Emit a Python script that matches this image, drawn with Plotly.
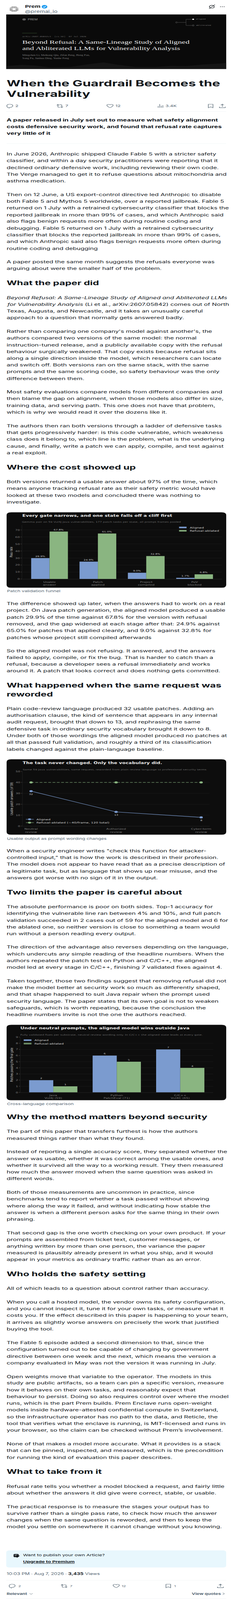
import re
import plotly.graph_objects as go

W, H = 598, 6629

# ---------- chart data ----------
funnel_stages = ["Usable<br>answer", "Patch<br>applied", "Project<br>compiled", "PoV<br>blocked"]
funnel_aligned = [29.9, 24.9, 9.0, 1.7]
funnel_ablated = [67.8, 65.0, 32.8, 6.8]

wording_frames = ["Neutral<br>review", "Authorized<br>review", "Cyber-term<br>review"]
wording_aligned = [32, 13, 8]
wording_ablated = [40, 40, 40]

lang_names = ["Java<br>Vul4J (59)", "Python<br>PatchEval (71)", "C/C++<br>Vul4C (65)"]
lang_aligned = [2, 6, 7]
lang_ablated = [1, 5, 4]

# ---------- article text ----------
PARAGRAPHS = [
 (633, ["In June 2026, Anthropic shipped Claude Fable 5 with a stricter safety",
        "classifier, and within a day security practitioners were reporting that it",
        "declined ordinary defensive work, including reviewing their own code.",
        "The Verge managed to get it to refuse questions about mitochondria and",
        "asthma medication."]),
 (801, ["Then on 12 June, a US export-control directive led Anthropic to disable",
        "both Fable 5 and Mythos 5 worldwide, over a reported jailbreak. Fable 5",
        "returned on 1 July with a retrained cybersecurity classifier that blocks the",
        "reported jailbreak in more than 99% of cases, and which Anthropic said",
        "also flags benign requests more often during routine coding and",
        "debugging. Fable 5 returned on 1 July with a retrained cybersecurity",
        "classifier that blocks the reported jailbreak in more than 99% of cases,",
        "and which Anthropic said also flags benign requests more often during",
        "routine coding and debugging"]),
 (1081, ["A paper posted the same month suggests the refusals everyone was",
         "arguing about were the smaller half of the problem."]),
 (1229, ["<i>Beyond Refusal: A Same-Lineage Study of Aligned and Abliterated LLMs</i>",
         "<i>for Vulnerability Analysis</i> (Li et al., arXiv:2607.05842) comes out of North",
         "Texas, Augusta, and Newcastle, and it takes an unusually careful",
         "approach to a question that normally gets answered badly."]),
 (1369, ["Rather than comparing one company's model against another's, the",
         "authors compared two versions of the same model: the normal",
         "instruction-tuned release, and a publicly available copy with the refusal",
         "behaviour surgically weakened. That copy exists because refusal sits",
         "along a single direction inside the model, which researchers can locate",
         "and switch off. Both versions ran on the same stack, with the same",
         "prompts and the same scoring code, so safety behaviour was the only",
         "difference between them."]),
 (1621, ["Most safety evaluations compare models from different companies and",
         "then blame the gap on alignment, when those models also differ in size,",
         "training data, and serving path. This one does not have that problem,",
         "which is why we would read it over the dozens like it."]),
 (1761, ["The authors then ran both versions through a ladder of defensive tasks",
         "that gets progressively harder: is this code vulnerable, which weakness",
         "class does it belong to, which line is the problem, what is the underlying",
         "cause, and finally, write a patch we can apply, compile, and test against",
         "a real exploit."]),
 (1993, ["Both versions returned a usable answer about 97% of the time, which",
         "means anyone tracking refusal rate as their safety metric would have",
         "looked at these two models and concluded there was nothing to",
         "investigate."]),
 (2499, ["The difference showed up later, when the answers had to work on a real",
         "project. On Java patch generation, the aligned model produced a usable",
         "patch 29.9% of the time against 67.8% for the version with refusal",
         "removed, and the gap widened at each stage after that: 24.9% against",
         "65.0% for patches that applied cleanly, and 9.0% against 32.8% for",
         "patches whose project still compiled afterwards"]),
 (2695, ["So the aligned model was not refusing. It answered, and the answers",
         "failed to apply, compile, or fix the bug. That is harder to catch than a",
         "refusal, because a developer sees a refusal immediately and works",
         "around it. A patch that looks correct and does nothing gets committed."]),
 (2935, ["Plain code-review language produced 32 usable patches. Adding an",
         "authorisation clause, the kind of sentence that appears in any internal",
         "audit request, brought that down to 13, and rephrasing the same",
         "defensive task in ordinary security vocabulary brought it down to 8.",
         "Under both of those wordings the aligned model produced no patches at",
         "all that passed full validation, and roughly a third of its classification",
         "labels changed against the plain-language baseline."]),
 (3525, ["When a security engineer writes \"check this function for attacker-",
         "controlled input,\" that is how the work is described in their profession.",
         "The model does not appear to have read that as a precise description of",
         "a legitimate task, but as language that shows up near misuse, and the",
         "answers got worse with no sign of it in the output."]),
 (3757, ["The absolute performance is poor on both sides. Top-1 accuracy for",
         "identifying the vulnerable line ran between 4% and 10%, and full patch",
         "validation succeeded in 2 cases out of 59 for the aligned model and 6 for",
         "the ablated one, so neither version is close to something a team would",
         "run without a person reading every output."]),
 (3925, ["The direction of the advantage also reverses depending on the language,",
         "which undercuts any simple reading of the headline numbers. When the",
         "authors repeated the patch test on Python and C/C++, the aligned",
         "model led at every stage in C/C++, finishing 7 validated fixes against 4."]),
 (4065, ["Taken together, those two findings suggest that removing refusal did not",
         "make the model better at security work so much as differently shaped,",
         "and that shape happened to suit Java repair when the prompt used",
         "security language. The paper states that its own goal is not to weaken",
         "safeguards, which is worth repeating, because the conclusion the",
         "headline numbers invite is not the one the authors reached."]),
 (4690, ["The part of this paper that transfers furthest is how the authors",
         "measured things rather than what they found."]),
 (4774, ["Instead of reporting a single accuracy score, they separated whether the",
         "answer was usable, whether it was correct among the usable ones, and",
         "whether it survived all the way to a working result. They then measured",
         "how much the answer moved when the same question was asked in",
         "different words."]),
 (4942, ["Both of those measurements are uncommon in practice, since",
         "benchmarks tend to report whether a task passed without showing",
         "where along the way it failed, and without indicating how stable the",
         "answer is when a different person asks for the same thing in their own",
         "phrasing."]),
 (5110, ["That second gap is the one worth checking on your own product. If your",
         "prompts are assembled from ticket text, customer messages, or",
         "anything written by more than one person, the variance the paper",
         "measured is plausibly already present in what you ship, and it would",
         "appear in your metrics as ordinary traffic rather than as an error."]),
 (5341, ["All of which leads to a question about control rather than accuracy."]),
 (5397, ["When you call a hosted model, the vendor owns its safety configuration,",
         "and you cannot inspect it, tune it for your own tasks, or measure what it",
         "costs you. If the effect described in this paper is happening to your team,",
         "it arrives as slightly worse answers on precisely the work that justified",
         "buying the tool."]),
 (5566, ["The Fable 5 episode added a second dimension to that, since the",
         "configuration turned out to be capable of changing by government",
         "directive between one week and the next, which means the version a",
         "company evaluated in May was not the version it was running in July."]),
 (5706, ["Open weights move that variable to the operator. The models in this",
         "study are public artifacts, so a team can pin a specific version, measure",
         "how it behaves on their own tasks, and reasonably expect that",
         "behaviour to persist. Doing so also requires control over where the model",
         "runs, which is the part Prem builds. Prem Enclave runs open-weight",
         "models inside hardware-attested confidential compute in Switzerland,",
         "so the infrastructure operator has no path to the data, and Reticle, the",
         "tool that verifies what the enclave is running, is MIT-licensed and runs in",
         "your browser, so the claim can be checked without Prem\u2019s involvement."]),
 (5986, ["None of that makes a model more accurate. What it provides is a stack",
         "that can be pinned, inspected, and measured, which is the precondition",
         "for running the kind of evaluation this paper describes."]),
 (6162, ["Refusal rate tells you whether a model blocked a request, and fairly little",
         "about whether the answers it did give were correct, stable, or usable."]),
 (6246, ["The practical response is to measure the stages your output has to",
         "survive rather than a single pass rate, to check how much the answer",
         "changes when the same question is reworded, and then to keep the",
         "model you settle on somewhere it cannot change without you knowing."]),
]
HEADINGS = [
 (1168, "What the paper did"), (1933, "Where the cost showed up"),
 (2838, "What happened when the same request was"), (2874, "reworded"),
 (3697, "Two limits the paper is careful about"),
 (4629, "Why the method matters beyond security"),
 (5281, "Who holds the safety setting"), (6101, "What to take from it"),
]
CAPTIONS = [(2448, "Patch validation funnel"), (3474, "Usable output as prompt wording changes"),
            (4575, "Cross-language comparison")]
INTRO = [(492, "A paper released in July set out to measure what safety alignment"),
         (520, "costs defensive security work, and found that refusal rate captures"),
         (548, "very little of it")]

# ---------- palette ----------
INK, GREY = "#0f1419", "#536471"
CARD = "#0d0d0d"
BLUE, GREEN = "#7b9bcf", "#8ab581"
GRID, SPINE = "#1d1d1d", "#2a2a2a"
TICK, LABEL, STRONG = "#7d7d7d", "#cfcfcf", "#ececec"
MAIN, CHART, SERIF, MONO = "Inter", "DejaVu Sans", "Liberation Serif", "DejaVu Sans Mono"

fx = lambda x: x / W
fy = lambda y: 1 - y / H

def pth(s, ox=0, oy=0):
    def rep(m):
        return f"{fx(float(m.group(1)) + ox):.6f},{fy(float(m.group(2)) + oy):.6f}"
    return re.sub(r"(-?[\d.]+),(-?[\d.]+)", rep, s)

shapes, notes = [], []

def text(x, y, s, size, color=INK, family=MAIN, anchor="left", weight=None, angle=0):
    f = dict(size=size, color=color, family=family)
    if weight:
        f["weight"] = weight
    notes.append(dict(xref="paper", yref="paper", x=fx(x), y=fy(y), text=s, showarrow=False,
                      xanchor=anchor, yanchor="middle", align=anchor, font=f, borderpad=0,
                      borderwidth=0, textangle=angle))

def icon(d, ox, oy, color=GREY, w=1.35, fill=None):
    shapes.append(dict(type="path", xref="paper", yref="paper", path=pth(d, ox, oy), layer="below",
                       line=dict(color=color, width=w), fillcolor=fill or "rgba(0,0,0,0)"))

def circle(cx, cy, r, fill=None, line=None, w=1.0):
    shapes.append(dict(type="circle", xref="paper", yref="paper", layer="below",
                       x0=fx(cx - r), x1=fx(cx + r), y0=fy(cy + r), y1=fy(cy - r),
                       fillcolor=fill or "rgba(0,0,0,0)",
                       line=dict(color=line or "rgba(0,0,0,0)", width=w if line else 0)))

def rect(x0, y0, x1, y1, fill):
    shapes.append(dict(type="rect", xref="paper", yref="paper", layer="below",
                       x0=fx(x0), x1=fx(x1), y0=fy(y1), y1=fy(y0), fillcolor=fill, line=dict(width=0)))

def rrect(x0, y0, x1, y1, r, fill):
    d = (f"M{x0+r},{y0} L{x1-r},{y0} Q{x1},{y0} {x1},{y0+r} L{x1},{y1-r} Q{x1},{y1} {x1-r},{y1} "
         f"L{x0+r},{y1} Q{x0},{y1} {x0},{y1-r} L{x0},{y0+r} Q{x0},{y0} {x0+r},{y0} Z")
    shapes.append(dict(type="path", xref="paper", yref="paper", layer="below", path=pth(d),
                       fillcolor=fill, line=dict(width=0)))

def hline(x0, x1, y, color="#eff3f4", w=1):
    shapes.append(dict(type="line", xref="paper", yref="paper", layer="below", x0=fx(x0), x1=fx(x1),
                       y0=fy(y), y1=fy(y), line=dict(color=color, width=w)))

def dots(cx, cy, step, lim, size, color):
    d = []
    for i in range(-5, 6):
        for j in range(-5, 6):
            if 2 < i * i + j * j <= lim:
                px, py, s = cx + i * step, cy + j * step, size
                d.append(f"M{px-s},{py-s} L{px+s},{py-s} L{px+s},{py+s} L{px-s},{py+s} Z")
    shapes.append(dict(type="path", xref="paper", yref="paper", layer="below", path=pth(" ".join(d)),
                       fillcolor=color, line=dict(width=0)))

# ---------- header ----------
dots(36, 32, 2.5, 24, 0.75, "#2a2a2a")
text(64, 22, "Prem", 15.5, INK, weight=700)
circle(114.5, 22, 7.3, fill="#1d9bf0")
icon("M-3.4,0.2 L-1,2.7 L3.6,-2.6", 114.5, 22, "#ffffff", 1.7)
text(64, 42, "@premai_io", 15, GREY)
circle(545, 22, 6.2, line=INK, w=1.5)
icon("M-7,8.5 L8,-9", 545, 22, INK, 1.3)
for dx in (-4.6, 0, 4.6):
    circle(572 + dx, 22, 1.25, fill=INK)

# ---------- banner ----------
rect(16, 54, 582, 280, "#0a0a0a")
icon("M16,280 L16,268 L40,265 L57,263 L90,266 L130,274 L180,272 L230,260 L267,253 L300,262 L350,272 "
     "L400,272 L440,267 L480,268 L520,262 L572,257 L582,255 L582,280 Z", 0, 0, "rgba(0,0,0,0)", 0, "#151515")
circle(62, 74.7, 4.5, fill="#5c5c5c")
text(71.5, 74.7, "PREM", 9, "#9a9a9a")
circle(454, 87, 2.4, line="#6a6a6a", w=0.9)
icon("M457,87 L478.5,87 M478.5,74 L478.5,99.5 M478.5,74 L494,74 M478.5,99.5 L494,99.5", 0, 0, "#5f5f5f", 0.9)
circle(497, 74, 2.6, fill="#ffffff")
circle(497, 99.5, 2.4, line="#7a7a7a", w=0.9)
text(504.5, 74, "aligned", 5.8, "#7f7f7f", MONO)
text(504.5, 99.5, "abliterated", 5.8, "#7f7f7f", MONO)
hline(57, 95, 131.7, "#3c5a35", 1.2)
text(57, 145, "arXiv:2607.05842v1  [cs.SE]  07 Jul 2026", 6.8, "#6f6f6f", MONO)
text(57, 169.5, "Beyond Refusal: A Same-Lineage Study of Aligned", 20.7, "#efefef", SERIF)
text(57, 195, "and Abliterated LLMs for Vulnerability Analysis", 20.7, "#efefef", SERIF)
text(57, 224, "Mingchen Li, Meikang Qiu, Zifan Peng, Heng Fan,", 8.4, "#7d7d7d", SERIF)
text(57, 237.3, "Song Fu, Junhua Ding, Yunhe Feng", 8.4, "#7d7d7d", SERIF)

# ---------- title + action rows ----------
text(17, 340, "When the Guardrail Becomes the", 34.1, INK, weight=700)
text(17, 383, "Vulnerability", 34.1, INK, weight=700)

COMMENT = "M-7.5,-1 C-7.5,-5 -4,-7.5 0,-7.5 C4.5,-7.5 8,-5 8,-1 C8,3 4,6 0,6 L-1,6 L-1,8.5 C-5,7 -7.5,3 -7.5,-1 Z"
RT = ("M-8,-3 L-5,-6.5 L-2,-3 M-5,-6 L-5,3 C-5,4.5 -4,5.5 -2.5,5.5 L1.5,5.5 "
      "M8,3 L5,6.5 L2,3 M5,6 L5,-3 C5,-4.5 4,-5.5 2.5,-5.5 L-1.5,-5.5")
HEART = "M0,7 C-4,4 -8,1 -8,-3 C-8,-6 -5.5,-7 -3.5,-7 C-2,-7 -0.8,-6 0,-5 C0.8,-6 2,-7 3.5,-7 C5.5,-7 8,-6 8,-3 C8,1 4,4 0,7 Z"
VIEWS = "M-6,7 L-6,0 M-2,7 L-2,-8 M2,7 L2,-1 M6,7 L6,-3"
MARK = "M-6,-7.5 L6,-7.5 L6,7.5 L0,3.5 L-6,7.5 Z"
SHARE = "M0,-8 L0,3 M-4,-4 L0,-8 L4,-4 M-7.5,3 L-7.5,7 L7.5,7 L7.5,3"

for d, x in ((COMMENT, 25), (RT, 154), (HEART, 283), (VIEWS, 413), (MARK, 542), (SHARE, 572)):
    icon(d, x, 434)
for x, s in ((39, "2"), (168, "7"), (297, "12"), (426, "3.4K")):
    text(x, 434, s, 13, GREY)
hline(16, 582, 457)

for y, s in INTRO:
    text(17, y, s, 16.8, INK, weight=700)
hline(17, 582, 590)

for y0, lines in PARAGRAPHS:
    for i, s in enumerate(lines):
        text(17, y0 + 28 * i, s, 16.4, INK)
for y, s in HEADINGS:
    text(17, y, s, 25.4, INK, weight=700)
for y, s in CAPTIONS:
    text(18, y, s, 12.7, GREY)

# ---------- chart cards ----------
CARDS = [(17, 2120, 582, 2433), (17, 3145, 582, 3458), (17, 4247, 582, 4560)]
for c in CARDS:
    rrect(*c, 12, CARD)

text(57, 2134, "Every gate narrows, and one state falls off a cliff first", 12.7, STRONG, CHART, weight=700)
text(56.5, 2161, "Gemma pair on 59 Vul4J Java vulnerabilities, 177 patch tasks per state, all prompt frames pooled", 8.35, "#6a6a6a", CHART)
text(58, 3160, "The task never changed. Only the vocabulary did.", 12.7, STRONG, CHART, weight=700)
text(58, 3187, "Same 59 Java vulnerabilities, same request, reworded from plain review language to professional security terms", 8.35, "#6a6a6a", CHART)
text(52.5, 4261, "Under neutral prompts, the aligned model wins outside Java", 12.7, STRONG, CHART, weight=700)
text(52.5, 4289, "Fully validated fixes per substrate, neutral review wording only. In C/C++ the aligned state leads at every gate.", 8.35, "#6a6a6a", CHART)

def swatches(x0, x1, tx, ys, labels):
    for y, col, lab in zip(ys, (BLUE, GREEN), labels):
        rect(x0, y - 3.2, x1, y + 3.2, col)
        text(tx, y, lab, 9.6, LABEL, CHART)

swatches(460.7, 480, 487.8, (2183, 2196.5), ("Aligned", "Refusal-ablated"))
swatches(61, 81, 88.5, (4310.7, 4324.5), ("Aligned", "Refusal-ablated"))
for y, col, lab in ((3394, BLUE, "Aligned"), (3408, GREEN, "Refusal-ablated (~40/frame, 120 total)")):
    hline(66.4, 87, y, col, 1.6)
    circle(76, y, 4, fill=col)
    text(93.6, y, lab, 9.6, LABEL, CHART)

# ---------- footer ----------
rrect(16, 6428, 582, 6499, 9, "#e8f7fd")
rrect(35, 6443, 48, 6456, 2.5, INK)
icon("M37.5,6447 L45,6447 M37.5,6450.5 L42,6450.5", 0, 0, "#ffffff", 1.1)
icon("M43,6458 L50,6450", 0, 0, INK, 2)
text(59, 6448, "Want to publish your own Article?", 13.2, INK)
text(59, 6476, "<b><u>Upgrade to Premium</u></b>", 13.2, INK)
text(17, 6526, "10:03 PM \u00b7 Aug 7, 2026 \u00b7 <b style='color:#0f1419'>3,435</b> Views", 13.4, GREY)
hline(16, 582, 6552)
for d, x in ((COMMENT, 31), (RT, 165), (HEART, 299), (MARK, 433), (SHARE, 567)):
    icon(d, x, 6576)
for x, s in ((47, "2"), (180, "7"), (313.5, "12"), (448, "1")):
    text(x, 6576, s, 10.5, GREY)
text(17, 6608, "<b>Relevant</b>", 12.3, GREY)
icon("M76,6606.5 L80,6610.5 L84,6606.5", 0, 0, GREY, 1)
text(569, 6608, "<b>View quotes</b>", 12.3, GREY, anchor="right")
icon("M573,6604 L577.5,6608 L573,6612", 0, 0, GREY, 1)
hline(16, 582, 6628)

# ---------- figure ----------
fig = go.Figure()
fig.add_trace(go.Bar(name="Aligned", x=funnel_stages, y=funnel_aligned, marker_color=BLUE,
                     text=[f"{v:.1f}%" for v in funnel_aligned], xaxis="x", yaxis="y"))
fig.add_trace(go.Bar(name="Refusal-ablated", x=funnel_stages, y=funnel_ablated, marker_color=GREEN,
                     text=[f"{v:.1f}%" for v in funnel_ablated], xaxis="x", yaxis="y"))
fig.add_trace(go.Scatter(name="Aligned", x=wording_frames, y=wording_aligned, mode="lines+markers",
                         line=dict(color=BLUE, width=1.8), marker=dict(color=BLUE, size=8.5),
                         xaxis="x2", yaxis="y2"))
fig.add_trace(go.Scatter(name="Refusal-ablated", x=wording_frames, y=wording_ablated, mode="lines+markers",
                         line=dict(color=GREEN, width=1.6, dash="7px,4px"), marker=dict(color=GREEN, size=8.5),
                         xaxis="x2", yaxis="y2"))
fig.add_trace(go.Bar(name="Aligned", x=lang_names, y=lang_aligned, marker_color=BLUE,
                     text=[str(v) for v in lang_aligned], xaxis="x3", yaxis="y3"))
fig.add_trace(go.Bar(name="Refusal-ablated", x=lang_names, y=lang_ablated, marker_color=GREEN,
                     text=[str(v) for v in lang_ablated], xaxis="x3", yaxis="y3"))
fig.update_traces(selector=dict(type="bar"), textposition="outside", cliponaxis=False, textangle=0,
                  textfont=dict(family=CHART, size=8, color=LABEL), marker_line_width=0)

for i, frame in enumerate(wording_frames):
    notes.append(dict(xref="x2", yref="y2", x=frame, y=wording_aligned[i], text=str(wording_aligned[i]),
                      showarrow=False, yshift=-13, font=dict(family=CHART, size=8, color=LABEL)))

def xax(x0, x1, rng):
    return dict(domain=[fx(x0), fx(x1)], range=rng, type="category", showgrid=False, zeroline=False,
                showline=True, linecolor=SPINE, linewidth=1, ticks="outside", ticklen=3, tickcolor=SPINE,
                tickfont=dict(family=CHART, size=9.3, color=TICK), tickangle=0, fixedrange=True)

def yax(yt, yb, rng, vals, title):
    return dict(domain=[fy(yb), fy(yt)], range=rng, tickvals=vals, showgrid=True, gridcolor=GRID, gridwidth=1,
                zeroline=False, showline=True, linecolor=SPINE, linewidth=1, ticks="outside", ticklen=3,
                tickcolor="#555555", tickfont=dict(family=CHART, size=9.3, color=TICK), fixedrange=True,
                title=dict(text=title, font=dict(family=CHART, size=9.4, color=LABEL), standoff=4))

fig.update_layout(
    width=W, height=H, autosize=False, margin=dict(l=0, r=0, t=0, b=0, pad=0),
    paper_bgcolor="#ffffff", plot_bgcolor="rgba(0,0,0,0)", showlegend=False,
    barmode="group", bargap=0.24, bargroupgap=0, shapes=shapes, annotations=notes,
    xaxis=dict(xax(56.8, 571.3, [-0.568, 3.568]), anchor="y"),
    yaxis=dict(yax(2173, 2397, [0, 77], [0, 10, 20, 30, 40, 50, 60, 70], "Pass rate"), anchor="x"),
    xaxis2=dict(xax(58, 539.4, [-0.1, 2.1]), anchor="y2"),
    yaxis2=dict(yax(3195.6, 3422.3, [0, 50], [0, 10, 20, 30, 40, 50], "Usable patch answers (of 59)"), anchor="x2"),
    xaxis3=dict(xax(52.4, 548.4, [-0.518, 2.518]), anchor="y3"),
    yaxis3=dict(yax(4298, 4527.6, [0, 9], list(range(10)), "Patches passing the final gate"), anchor="x3"),
)

# The browser that photographs the page may cap its window below the requested 6629 px
# (measured: 4096). Rather than losing the lower part of the article, fit the page to the
# real window height. In a full-height window k is 1 and the page renders 1:1.
FIT = """
document.body.style.margin='0';
var k=Math.min(1,window.innerHeight/%d);
if(k<1){
  var g=document.querySelector('.plotly-graph-div');
  g.style.transformOrigin='0 0';
  g.style.transform='scale(1,'+k+')';
  document.documentElement.style.overflow='hidden';
  document.body.style.overflow='hidden';
  document.body.style.height=window.innerHeight+'px';
}
""" % H

fig.write_html("out.html", config=dict(displayModeBar=False, staticPlot=True), post_script=FIT)
